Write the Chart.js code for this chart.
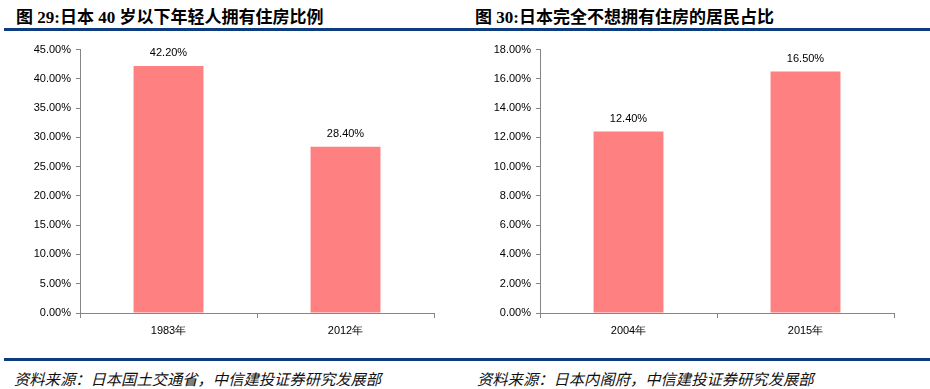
<!DOCTYPE html>
<html>
<head>
<meta charset="utf-8">
<script src="https://cdn.jsdelivr.net/npm/chart.js@4/dist/chart.umd.min.js"></script>
<style>
  body { margin: 0; background: #fff; width: 930px; height: 389px; position: relative; overflow: hidden; }
  .title { position: absolute; top: 3px; font-family: "Liberation Serif", "Noto Sans CJK SC", serif; font-weight: bold; font-size: 17px; color: #000; white-space: nowrap; }
  .title .cn { font-family: "Noto Sans CJK SC", sans-serif; }
  .rule { position: absolute; left: 4px; width: 926px; height: 3px; background: #0d3c7e; }
  .source { position: absolute; top: 367px; font-family: "Noto Sans CJK SC", sans-serif; font-style: italic; font-size: 15.3px; color: #111; white-space: nowrap; }
  canvas { position: absolute; top: 38px; }
</style>
</head>
<body>
<div class="title" style="left:16px">图 29:<span class="cn">日本</span> 40 <span class="cn">岁以下年轻人拥有住房比例</span></div>
<div class="title" style="left:475px">图 30:<span class="cn">日本完全不想拥有住房的居民占比</span></div>
<div class="rule" style="top:28px"></div>
<canvas id="chartLeft" width="465" height="307" style="left:0px"></canvas>
<canvas id="chartRight" width="465" height="307" style="left:460px"></canvas>
<div class="rule" style="top:358px"></div>
<div class="source" style="left:14px">资料来源：日本国土交通省，中信建投证券研究发展部</div>
<div class="source" style="left:477px">资料来源：日本内阁府，中信建投证券研究发展部</div>

<script>
// chart 29: home ownership, under-40s
const leftYears = ['1983年', '2012年'];
const leftValues = [42.2, 28.4];
const leftMax = 45;
const leftStep = 5;

// chart 30: residents who don't want to own a home
const rightYears = ['2004年', '2015年'];
const rightValues = [12.4, 16.5];
const rightMax = 18;
const rightStep = 2;

const barColor = '#ff8080';
const axisColor = '#868686';
const tickFont = { family: '"Liberation Sans", Arial, sans-serif', size: 11 };

// value labels above each bar
const valueLabels = {
  id: 'valueLabels',
  afterDatasetsDraw(chart) {
    const ctx = chart.ctx;
    const meta = chart.getDatasetMeta(0);
    const data = chart.data.datasets[0].data;
    ctx.save();
    ctx.font = '11px "Liberation Sans", Arial, sans-serif';
    ctx.fillStyle = '#000';
    ctx.textAlign = 'center';
    ctx.textBaseline = 'middle';
    meta.data.forEach((bar, i) => {
      ctx.fillText(data[i].toFixed(2) + '%', bar.x, bar.y - 13);
    });
    ctx.restore();
  }
};

function makeChart(id, labels, values, max, step) {
  const ctx = document.getElementById(id).getContext('2d');
  return new Chart(ctx, {
    type: 'bar',
    data: { labels: labels, datasets: [{
      data: values,
      backgroundColor: barColor,
      borderWidth: 0,
      barPercentage: 0.395,
      categoryPercentage: 1
    }]},
    options: {
      responsive: false,
      animation: false,
      layout: { padding: { top: 7, right: 31, left: 0, bottom: 0 } },
      plugins: { legend: { display: false }, tooltip: { enabled: false } },
      scales: {
        x: {
          grid: { drawOnChartArea: false, color: axisColor, tickLength: 5, offset: true },
          border: { color: axisColor },
          ticks: { color: '#000', font: tickFont, padding: 6 },
          afterFit: (s) => { s.height = 32; }
        },
        y: {
          min: 0, max: max,
          grid: { drawOnChartArea: false, color: axisColor, tickLength: 4 },
          border: { color: axisColor },
          ticks: { stepSize: step, color: '#000', font: tickFont, padding: 5,
                   callback: (v) => v.toFixed(2) + '%' },
          afterFit: (s) => { s.width = 80; }
        }
      }
    },
    plugins: [valueLabels]
  });
}

makeChart('chartLeft', leftYears, leftValues, leftMax, leftStep);
makeChart('chartRight', rightYears, rightValues, rightMax, rightStep);
</script>
</body>
</html>
